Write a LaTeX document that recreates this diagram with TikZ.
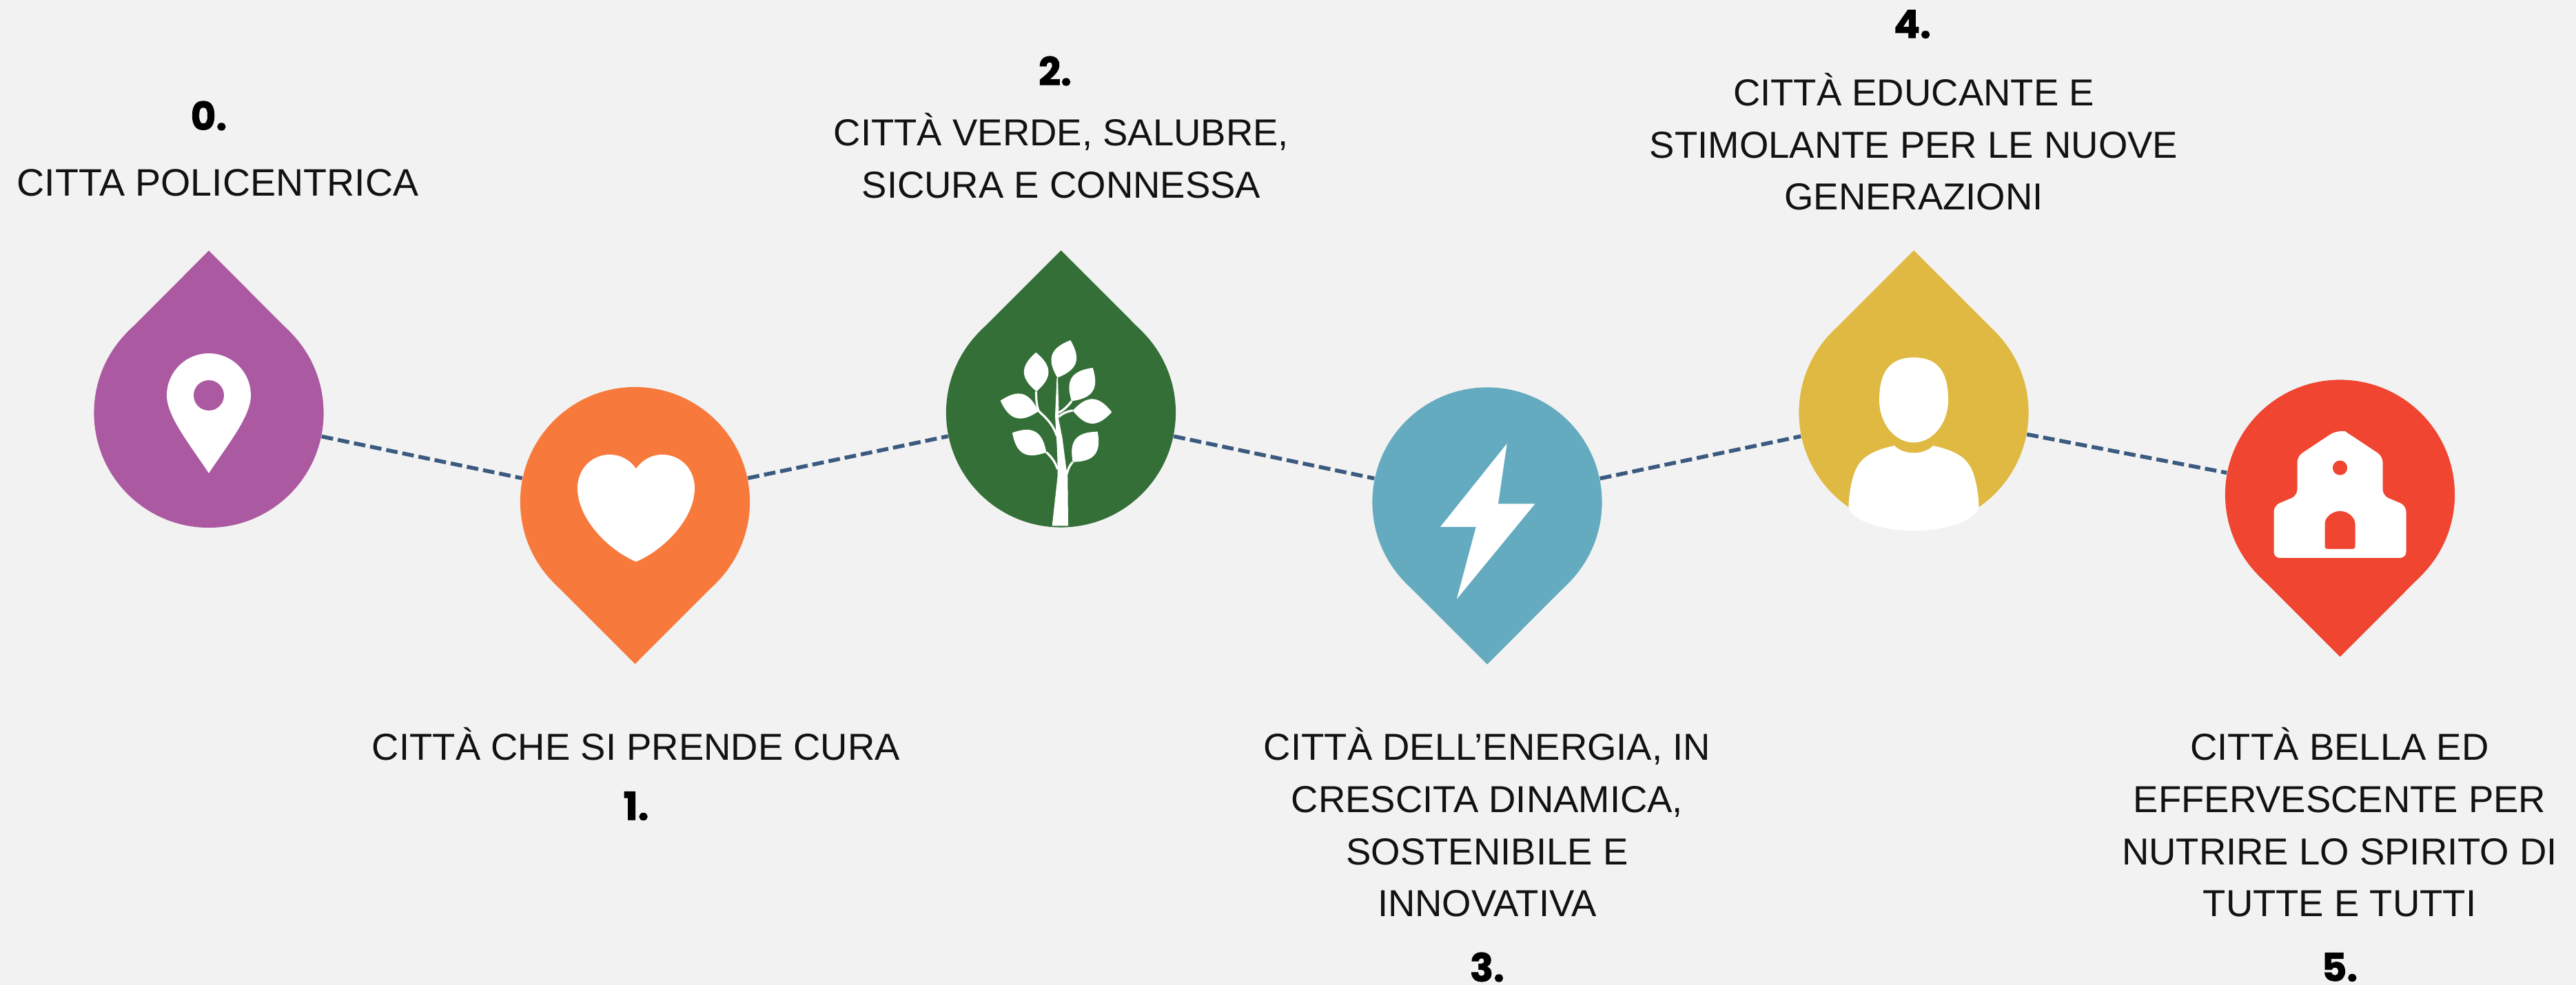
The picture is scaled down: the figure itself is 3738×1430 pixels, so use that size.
\documentclass[tikz,border=0pt]{standalone}
\usepackage{fontspec}
\setmainfont{Liberation Sans}
\newfontfamily\numfont{Poppins}[BoldFeatures={FakeBold=1.5}]
\definecolor{bgcol}{HTML}{F2F2F2}
\definecolor{linkcol}{HTML}{3B5A80}
\definecolor{viola}{HTML}{AB5AA1}
\definecolor{arancio}{HTML}{F77A3C}
\definecolor{verde}{HTML}{336F37}
\definecolor{azzurro}{HTML}{65ABBF}
\definecolor{giallo}{HTML}{DFB942}
\definecolor{rosso}{HTML}{F04530}
\tikzset{
  pinbody/.style={circle, fill=#1, minimum size=3.33cm, inner sep=0pt},
  linkline/.style={draw=linkcol, line width=1.6pt, dash pattern=on 4.8pt off 2pt},
  citytext/.style={align=center, inner sep=0pt, text=black!93, font=\fontsize{15.5}{21.5}\selectfont},
  citynum/.style={inner sep=0pt, font=\numfont\bfseries\fontsize{16}{18}\selectfont},
  stem/.style={draw=white, line width=0.9pt}
}
\begin{document}
\begin{tikzpicture}[x=0.01cm, y=0.01cm]
  % Background
  \useasboundingbox (0,0) rectangle (3738,1430);
  \fill[bgcol] (0,0) rectangle (3738,1430);

  % Pins
  \foreach \name/\x/\y/\col/\tip in {p0/303/830.5/viola/90, p1/921.5/701.5/arancio/-90,
      p2/1539.5/831/verde/90, p3/2158/701/azzurro/-90,
      p4/2777/831/giallo/90, p5/3395.5/712/rosso/-90}{
    \node[pinbody=\col] (\name) at (\x,\y) {};
    \fill[\col] (\name) +(\tip+45:166.5) -- +(\tip:235.5) -- +(\tip-45:166.5) -- cycle;
  }

  % Links
  \foreach \a/\b in {p0/p1, p1/p2, p2/p3, p3/p4, p4/p5}
    \draw[linkline] (\a) -- (\b);

  % Icon 0: map marker
  \begin{scope}[shift={(p0)}]
    \fill[white] (0,-87.5) .. controls (-28,-45) and (-61,-5) .. (-61,25.5)
      arc[start angle=180, end angle=0, radius=61]
      .. controls (61,-5) and (28,-45) .. (0,-87.5) -- cycle;
    \fill[viola] (0,25.5) circle[radius=22];
  \end{scope}

  % Icon 1: heart
  \begin{scope}[shift={(p1)}, xshift=0.015cm]
    \fill[white] (0,48) .. controls (-8,60) and (-22,68.5) .. (-38,68.5)
      .. controls (-65,68.5) and (-85,47) .. (-85,20)
      .. controls (-85,-25) and (-40,-70) .. (0,-87)
      .. controls (40,-70) and (85,-25) .. (85,20)
      .. controls (85,47) and (65,68.5) .. (38,68.5)
      .. controls (22,68.5) and (8,60) .. (0,48) -- cycle;
  \end{scope}

  % Icon 2: tree
  \begin{scope}[shift={(p2)}]
    \foreach \ax/\ay/\bx/\by in {-36.2/87.3/-35.5/30.7, 13.8/105/-5.2/50.7, 46.2/65/15.5/16.7,
        -87.8/17.3/-32.8/1.7, 73.8/0.7/17.2/3, -70.5/-29.3/-21.2/-57.7, 53.2/-27.7/17.2/-71.7}
      \fill[white] (\ax,\ay) to[bend left=50, looseness=1.4] (\bx,\by)
        to[bend left=50, looseness=1.4] (\ax,\ay) -- cycle;
    \fill[white] (-12.8,-164.3) -- (-4.8,-92) .. controls (-5,-60) and (-6,-45) .. (-7,-30)
      -- (-8.5,-5) -- (-6,50.7) -- (-4.5,50.7) -- (-3,0) -- (-3.2,-10) -- (2.2,-37.7)
      -- (8.2,-84.3) -- (9.8,-94.3) -- (10.5,-164.3) -- cycle;
    \draw[stem] (-21.2,-57.7) .. controls (-14,-64) and (-8,-72) .. (-5,-82);
    \draw[stem] (17.2,-71.7) .. controls (13,-76) and (10,-82) .. (8.5,-90);
    \draw[stem] (-36,30.7) .. controls (-36,18) and (-35,8) .. (-32,2)
      .. controls (-24,-6) and (-12,-15) .. (-6,-34);
    \draw[stem] (15.5,16.7) .. controls (10,9) and (3,3) .. (-3,0);
    \draw[stem] (17.2,3) .. controls (9,2) and (1,-2) .. (-3,-6);
  \end{scope}

  % Icon 3: lightning
  \begin{scope}[shift={(p3)}]
    \fill[white] (28.7,85) -- (16,-2.4) -- (69.4,-2.4) -- (-44.2,-140.8)
      -- (-16.2,-36) -- (-68,-36) -- cycle;
  \end{scope}

  % Icon 4: person
  \begin{scope}[shift={(p4)}]
    \fill[white] (0,80) .. controls (38,80) and (50,55) .. (50,18)
      .. controls (50,-15) and (28,-43.4) .. (0,-43.4)
      .. controls (-28,-43.4) and (-50,-15) .. (-50,18)
      .. controls (-50,55) and (-38,80) .. (0,80) -- cycle;
    \fill[white] (-28,-48) .. controls (-15,-62) and (15,-62) .. (28,-48)
      .. controls (65,-56) and (80,-68) .. (87,-90)
      .. controls (92,-105) and (94.5,-125) .. (94.5,-139)
      .. controls (85,-160) and (40,-171.6) .. (0,-171.6)
      .. controls (-40,-171.6) and (-85,-160) .. (-94.5,-139)
      .. controls (-94.5,-125) and (-92,-105) .. (-87,-90)
      .. controls (-80,-68) and (-65,-56) .. (-28,-48) -- cycle;
  \end{scope}

  % Icon 5: church
  \begin{scope}[shift={(p5)}]
    \fill[white, rounded corners=2.5pt] (0,92) [sharp corners] -- (7,92) [rounded corners=2.5pt]
      -- (62,55.6) -- (62,-1.6) -- (96,-16) -- (96,-92) -- (-96,-92) -- (-96,-16)
      -- (-62,-1.6) -- (-62,55.6) -- (-7,92) [sharp corners] -- (0,92) -- cycle;
    \fill[rosso] (0,38.8) circle[radius=10.6];
    \fill[rosso, rounded corners=1pt] (-22,-79) -- (-22,-46) arc[start angle=180, end angle=0, radius=22]
      -- (22,-79) -- cycle;
  \end{scope}

  % Labels
  \node[citynum] (n0) at (303,1262) {0.};
  \node[citytext, font=\fontsize{15.8}{21.5}\selectfont] (t0) at (316,1165) {CITTA POLICENTRICA};
  \node[citytext] (t1) at (923,350) {CITTÀ CHE SI PRENDE CURA};
  \node[citynum] (n1) at (923,260) {1.};
  \node[citynum] (n2) at (1531,1327) {2.};
  \node[citytext] (t2) at (1540,1204) {CITTÀ VERDE, SALUBRE,\\SICURA E CONNESSA};
  \node[citytext] (t3) at (2158,236) {CITTÀ DELL’ENERGIA, IN\\CRESCITA DINAMICA,\\SOSTENIBILE E\\INNOVATIVA};
  \node[citynum] (n3) at (2158,26) {3.};
  \node[citynum] (n4) at (2775,1395) {4.};
  \node[citytext] (t4) at (2777,1224) {CITTÀ EDUCANTE E\\STIMOLANTE PER LE NUOVE\\GENERAZIONI};
  \node[citytext] (t5) at (3395,236) {CITTÀ BELLA ED\\EFFERVESCENTE PER\\NUTRIRE LO SPIRITO DI\\TUTTE E TUTTI};
  \node[citynum] (n5) at (3395,26) {5.};
\end{tikzpicture}
\end{document}
